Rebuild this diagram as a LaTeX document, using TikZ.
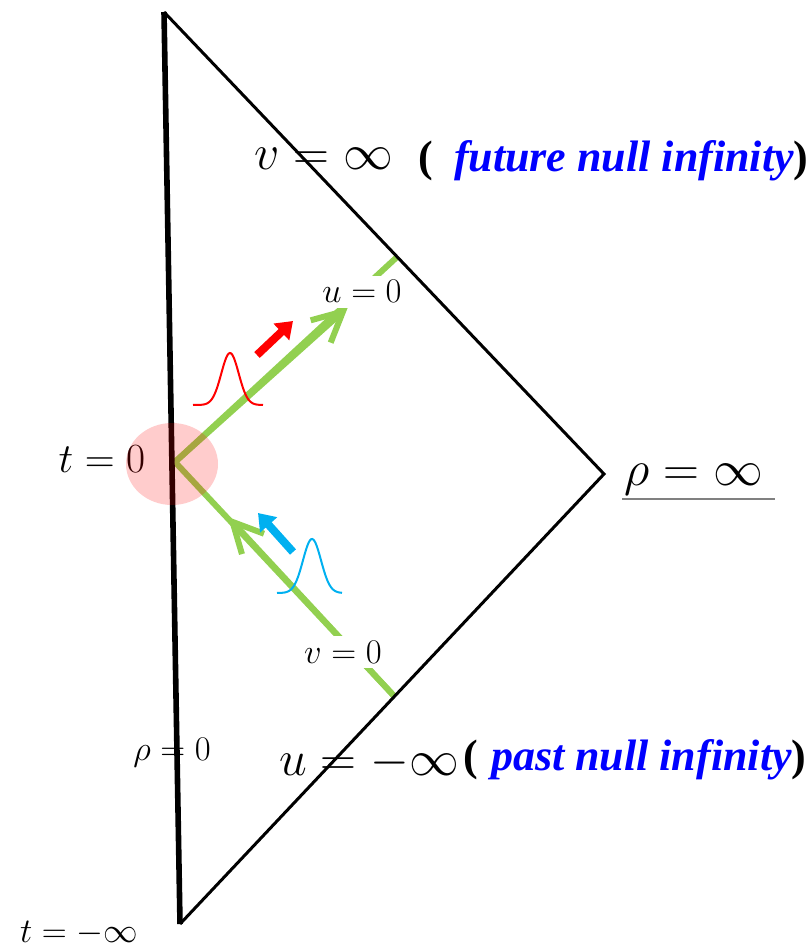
\documentclass[tikz,border=0pt]{standalone}
\usepackage{fontspec}
\newfontfamily\timesfont{Liberation Serif}
\usetikzlibrary{arrows.meta}
\definecolor{raygreen}{RGB}{146,208,80}
\definecolor{wavecyan}{RGB}{0,176,240}

\begin{document}
\begin{tikzpicture}[x=0.5pt, y=-0.5pt,
  lbl/.style={anchor=base, inner sep=1pt},
  raylbl/.style={anchor=base, inner sep=2.5pt, fill=white},
  nullray/.style={line width=3pt, raygreen},
  ray tip/.style={-{Straight Barb[length=15pt, width=15pt]}},
  pulse/.style={line width=1pt, samples=60, smooth}]
  \useasboundingbox (0,0) rectangle (811,946);

  % Boundary labels (the boundary is drawn over them)
  \node[lbl, font=\fontsize{26}{30}\selectfont] (vinf) at (324,170) {$v=\infty$};
  \node[anchor=base west, inner sep=0pt, font=\fontsize{22}{26}\selectfont\timesfont] (futlbl) at (418,172)
    {\textbf{(}\hspace{10.5pt}\textcolor{blue}{\bfseries\itshape future null infinity}\textbf{)}};
  \node[lbl, font=\fontsize{24}{28}\selectfont] (uinf) at (369,775) {$u=-\infty$};
  \node[anchor=base west, inner sep=0pt, font=\fontsize{22}{26}\selectfont\timesfont] (pastlbl) at (463,770)
    {\textbf{(}\hspace{6.5pt}\textcolor{blue}{\bfseries\itshape past null infinity}\textbf{)}};
  \node[lbl, font=\fontsize{24}{28}\selectfont] (rhoinf) at (694,485) {$\rho=\infty$};
  \draw[gray, line width=0.6pt] (622,499) -- (775,499);
  \node[lbl, font=\fontsize{20}{24}\selectfont] (tzero) at (102,472) {$t=0$};
  \node[lbl, font=\fontsize{17.7}{21}\selectfont] (rhozero) at (172,760) {$\rho=0$};
  \node[lbl, font=\fontsize{18.5}{22}\selectfont] (tminf) at (79,942) {$t=-\infty$};

  % Null rays through t=0
  \coordinate (orig) at (175,462);
  \coordinate (uend) at (397,257);
  \coordinate (utip) at (348,307);
  \coordinate (vend) at (395,697);
  \coordinate (vtip) at (228,517);
  \draw[nullray] (orig) -- (uend);
  \draw[nullray, ray tip] (orig) -- (utip);
  \draw[nullray] (vend) -- (orig);
  \draw[nullray, ray tip] (vend) -- (vtip);
  \node[raylbl, font=\fontsize{17.7}{21}\selectfont] (uzero) at (362,303) {$u=0$};
  \node[raylbl, font=\fontsize{17.7}{21}\selectfont] (vzero) at (343,663) {$v=0$};

  % Outgoing pulse (red) and incoming pulse (cyan)
  \draw[pulse, red] plot[domain=193:263] (\x, {405-52*exp(-((\x-230)/8.7)^2/2)});
  \coordinate (outtail) at (257,355);
  \coordinate (outtip) at (293,321);
  \draw[red, line width=4pt, -{Triangle[length=8pt, width=11pt]}] (outtail) -- (outtip);
  \draw[pulse, wavecyan] plot[domain=277:342] (\x, {593-54*exp(-((\x-312)/9)^2/2)});
  \coordinate (intail) at (293,552);
  \coordinate (intip) at (258,513);
  \draw[wavecyan, line width=4pt, -{Triangle[length=8pt, width=11pt]}] (intail) -- (intip);

  % Boundary of the diagram
  \coordinate (itop) at (164,12);
  \coordinate (spi) at (604,474);
  \coordinate (ibot) at (180,924);
  \draw[line width=2.8pt] (itop) -- (ibot);
  \draw[line width=1.5pt] (itop) -- (spi) -- (ibot);

  % Region around t=0
  \fill[red, opacity=0.2] (172,464) ellipse [x radius=23pt, y radius=20.5pt];
\end{tikzpicture}
\end{document}
